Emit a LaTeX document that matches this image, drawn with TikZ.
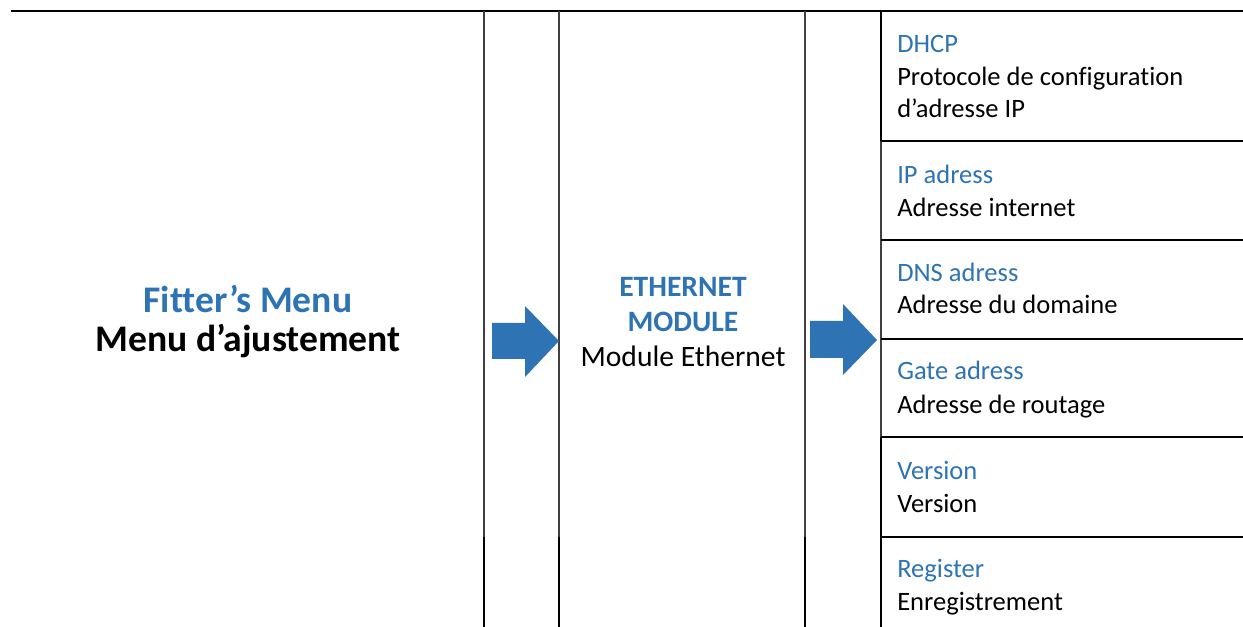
\documentclass[tikz,border=0pt]{standalone}
\usepackage{fontspec}
\setmainfont[Ligatures=NoCommon]{Carlito}
\definecolor{wordblue}{HTML}{2E74B5}

\tikzset{
  rule/.style={line width=1.5pt, black},
  thinrule/.style={line width=0.8pt, black!75},
  titlefont/.style={font=\fontsize{28.2}{32}\selectfont\bfseries},
  midfont/.style={font=\fontsize{22.2}{26}\selectfont},
  midbold/.style={font=\fontsize{22.2}{26}\selectfont\bfseries},
  rowfont/.style={font=\fontsize{19.9}{24}\selectfont},
  rowlabel/.style={rowfont, anchor=base west, inner sep=0pt, text=wordblue},
  rowtext/.style={rowfont, anchor=base west, inner sep=0pt},
  blockarrow/.style={fill=wordblue, draw=none}
}

\begin{document}
\begin{tikzpicture}[x=0.75pt,y=-0.75pt]
\useasboundingbox (0,0) rectangle (1243,627);

% table frame
\draw[rule] (11,11) -- (1243,11);
\draw[thinrule] (484,11) -- (484,537);
\draw[thinrule] (559,11) -- (559,537);
\draw[thinrule] (805,11) -- (805,537);
\draw[rule] (484,537) -- (484,627);
\draw[rule] (559,537) -- (559,627);
\draw[rule] (805,537) -- (805,627);
\draw[rule] (881,11) -- (881,141);
\draw[thinrule] (881,141) -- (881,437);
\draw[rule] (881,437) -- (881,627);
\draw[rule] (881,141) -- (1243,141);
\draw[rule] (881,240) -- (1243,240);
\draw[rule] (881,339) -- (1243,339);
\draw[rule] (881,437) -- (1243,437);
\draw[rule] (881,537) -- (1243,537);

% left column
\node[titlefont, text=wordblue, anchor=base, inner sep=0pt] (fitter) at (248,313) {Fitter’s Menu};
\node[titlefont, anchor=base, inner sep=0pt] (ajust) at (248,352) {Menu d’ajustement};

% block arrows
\fill[blockarrow] (492,323) -- (525,323) -- (525,306) -- (559,341) -- (525,377) -- (525,359) -- (492,359) -- cycle;
\fill[blockarrow] (810,321) -- (843,321) -- (843,304) -- (877,340) -- (843,375) -- (843,358) -- (810,358) -- cycle;

% middle column
\node[midbold, text=wordblue, anchor=base, inner sep=0pt] (eth) at (683,297) {ETHERNET};
\node[midbold, text=wordblue, anchor=base, inner sep=0pt] (mod) at (683,332) {MODULE};
\node[midfont, anchor=base, inner sep=0pt] (modeth) at (683,367) {Module Ethernet};

% right column
\node[rowlabel] (dhcp) at (897,53) {DHCP};
\node[rowtext] (dhcpa) at (897,86) {Protocole de configuration};
\node[rowtext] (dhcpb) at (897,118) {d’adresse IP};
\node[rowlabel] (ip) at (897,184) {IP adress};
\node[rowtext] (ipa) at (897,217) {Adresse internet};
\node[rowlabel] (dns) at (897,282) {DNS adress};
\node[rowtext] (dnsa) at (897,314) {Adresse du domaine};
\node[rowlabel] (gate) at (897,380) {Gate adress};
\node[rowtext] (gatea) at (897,413) {Adresse de routage};
\node[rowlabel] (vers) at (897,479) {Version};
\node[rowtext] (versa) at (897,512) {Version};
\node[rowlabel] (reg) at (897,577) {Register};
\node[rowtext] (rega) at (897,610) {Enregistrement};
\end{tikzpicture}
\end{document}
